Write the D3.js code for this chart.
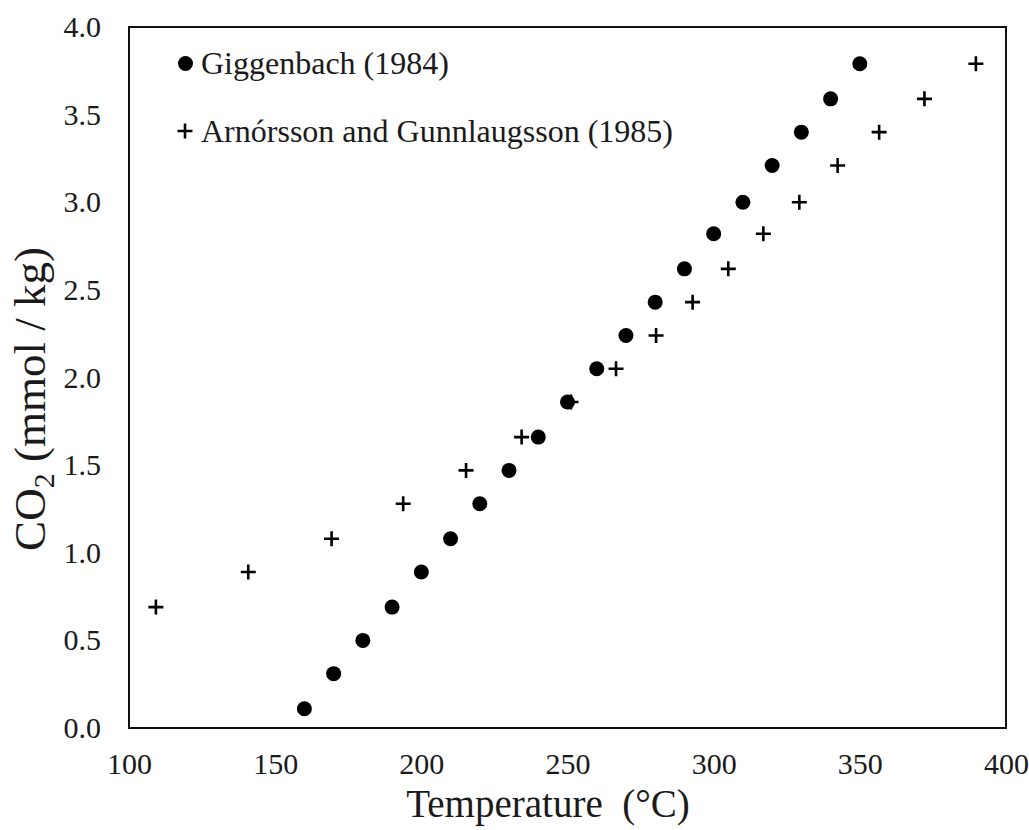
<!DOCTYPE html>
<html>
<head>
<meta charset="utf-8">
<script src="https://cdn.jsdelivr.net/npm/d3@7"></script>
<style>
  body { margin: 0; background: #fff; }
</style>
</head>
<body>
<svg id="chart" width="1029" height="830"></svg>
<script>
// Giggenbach (1984)
var gigTemp = [160, 170, 180, 190, 200, 210, 220, 230, 240, 250,
               260, 270, 280, 290, 300, 310, 320, 330, 340, 350];
var gigCO2 = [0.11, 0.31, 0.50, 0.69, 0.89, 1.08, 1.28, 1.47, 1.66, 1.86,
              2.05, 2.24, 2.43, 2.62, 2.82, 3.00, 3.21, 3.40, 3.59, 3.79];

// Arnorsson and Gunnlaugsson (1985)
var agTemp = [109.2, 140.8, 169.3, 193.8, 215.3, 234.3, 251.2, 266.6, 280.3,
              292.8, 305.0, 317.0, 329.3, 342.4, 356.6, 372.1, 389.7];
var agCO2 = [0.69, 0.89, 1.08, 1.28, 1.47, 1.66, 1.86, 2.05, 2.24,
             2.43, 2.62, 2.82, 3.00, 3.21, 3.40, 3.59, 3.79];

var xTicks = [100, 150, 200, 250, 300, 350, 400];
var yTicks = [0, 0.5, 1.0, 1.5, 2.0, 2.5, 3.0, 3.5, 4.0];

var serif = "'Liberation Serif', 'Times New Roman', serif";

var margin = {top: 27, right: 23, bottom: 102, left: 129};
var width = 1029 - margin.left - margin.right;
var height = 830 - margin.top - margin.bottom;

var svg = d3.select('#chart');
var g = svg.append('g').attr('transform', 'translate(' + margin.left + ',' + margin.top + ')');

var x = d3.scaleLinear().domain([100, 400]).range([0, width]);
var y = d3.scaleLinear().domain([0, 4]).range([height, 0]);

var xAxis = g.append('g')
    .attr('transform', 'translate(0,' + height + ')')
    .call(d3.axisBottom(x).tickValues(xTicks).tickSize(0).tickPadding(25).tickFormat(d3.format('d')));
var yAxis = g.append('g')
    .call(d3.axisLeft(y).tickValues(yTicks).tickSize(0).tickPadding(28).tickFormat(d3.format('.1f')));

[xAxis, yAxis].forEach(function(a) {
  a.attr('font-family', serif).attr('font-size', 30);
  a.select('.domain').remove();
  a.selectAll('text')
      .style('font-family', serif)
      .style('font-size', '30px')
      .attr('fill', '#1a1a1a');
});

// plot frame
g.append('rect')
    .attr('width', width)
    .attr('height', height)
    .attr('fill', 'none')
    .attr('stroke', '#111')
    .attr('stroke-width', 2);

// Giggenbach dots
g.selectAll('circle.gig')
    .data(d3.zip(gigTemp, gigCO2))
    .enter().append('circle')
    .attr('class', 'gig')
    .attr('cx', function(d) { return x(d[0]); })
    .attr('cy', function(d) { return y(d[1]); })
    .attr('r', 7.5)
    .attr('fill', '#000');

// crosses
var cross = 'M-7.5,0H7.5M0,-7.5V7.5';
g.selectAll('path.ag')
    .data(d3.zip(agTemp, agCO2))
    .enter().append('path')
    .attr('class', 'ag')
    .attr('d', cross)
    .attr('transform', function(d) { return 'translate(' + x(d[0]) + ',' + y(d[1]) + ')'; })
    .attr('stroke', '#000')
    .attr('stroke-width', 2.6)
    .attr('fill', 'none');

// legend
var leg = svg.append('g');
leg.append('circle').attr('cx', 185.5).attr('cy', 63.5).attr('r', 7.5).attr('fill', '#000');
leg.append('text').attr('x', 201).attr('y', 74)
    .style('font-family', serif).style('font-size', '32px').attr('fill', '#1a1a1a')
    .text('Giggenbach (1984)');
leg.append('path').attr('d', cross).attr('transform', 'translate(185,131)')
    .attr('stroke', '#000').attr('stroke-width', 2.6);
leg.append('text').attr('x', 201).attr('y', 142)
    .style('font-family', serif).style('font-size', '32px').attr('fill', '#1a1a1a')
    .text('Arnórsson and Gunnlaugsson (1985)');

// axis titles
svg.append('text')
    .attr('x', 548).attr('y', 817)
    .attr('text-anchor', 'middle')
    .style('font-family', serif)
    .style('font-size', '39px')
    .style('white-space', 'pre')
    .attr('fill', '#1a1a1a')
    .text('Temperature  (°C)');

var yt = svg.append('text')
    .attr('transform', 'translate(45,399) rotate(-90)')
    .attr('text-anchor', 'middle')
    .style('font-family', serif)
    .style('font-size', '45px')
    .attr('fill', '#1a1a1a');
yt.append('tspan').text('CO');
yt.append('tspan').attr('dy', 9).style('font-size', '30px').text('2');
yt.append('tspan').attr('dy', -9).text(' (mmol / kg)');
</script>
</body>
</html>
